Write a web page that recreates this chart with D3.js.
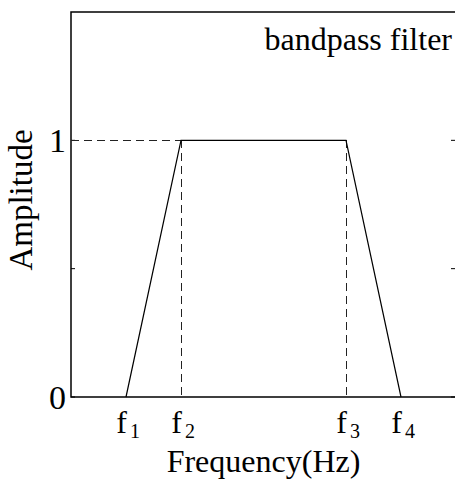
<!DOCTYPE html>
<html>
<head>
<meta charset="utf-8">
<script src="https://cdn.jsdelivr.net/npm/d3@7"></script>
<style>
  body { margin: 0; background: #fff; }
  text { font-family: "Liberation Serif", "Times New Roman", serif; fill: #000; }
</style>
</head>
<body>
<svg id="chart" width="455" height="479"></svg>
<script>
const svg = d3.select('#chart');

// filter corners (frequency index, amplitude)
const freqs = [1, 2, 5, 6];
const freqLabels = ['1', '2', '3', '4'];
const amps = [0, 1, 1, 0];
const yTickVals = [0, 0.5, 1];
const yTickLabels = ['0', '', '1'];

const x = d3.scaleLinear().domain([0, 7]).range([71, 456]);
const y = d3.scaleLinear().domain([0, 1.5]).range([397, 12]);

// frame: left, top, bottom (right side falls off the picture)
svg.append('path')
    .attr('d', d3.line()([[x(7), y(1.5)], [x(0), y(1.5)], [x(0), y(0)], [x(7), y(0)]]))
    .attr('fill', 'none')
    .attr('stroke', '#000')
    .attr('stroke-width', 1.5);

// inward ticks left and right
yTickVals.forEach(v => {
    svg.append('line')
        .attr('x1', x(0)).attr('x2', x(0) + 4)
        .attr('y1', y(v)).attr('y2', y(v))
        .attr('stroke', '#000').attr('stroke-width', 1);
    svg.append('line')
        .attr('x1', x(7) - 5).attr('x2', x(7))
        .attr('y1', y(v)).attr('y2', y(v))
        .attr('stroke', '#000').attr('stroke-width', 1);
});

svg.selectAll('.ylab')
    .data(yTickVals.filter((d, i) => yTickLabels[i] !== ''))
    .enter()
    .append('text')
    .attr('class', 'ylab')
    .attr('x', x(0) - 5)
    .attr('y', d => y(d))
    .attr('dy', '0.35em')
    .attr('text-anchor', 'end')
    .attr('font-size', 34)
    .text(d => yTickLabels[yTickVals.indexOf(d)]);

// dashed guides
const dash = svg.append('g')
    .attr('stroke', '#222')
    .attr('stroke-width', 1)
    .attr('stroke-dasharray', '8,5')
    .attr('shape-rendering', 'crispEdges')
    .attr('fill', 'none');

dash.append('path').attr('d', d3.line()([[x(0), y(1)], [x(freqs[1]), y(1)]]));
dash.append('path').attr('d', d3.line()([[x(freqs[1]), y(1)], [x(freqs[1]), y(0)]]));
dash.append('path').attr('d', d3.line()([[x(freqs[2]), y(1)], [x(freqs[2]), y(0)]]));

// the filter response
svg.append('path')
    .attr('d', d3.line().x((d, i) => x(freqs[i])).y(d => y(d))(amps))
    .attr('fill', 'none')
    .attr('stroke', '#000')
    .attr('stroke-width', 1.2);

// x labels f1..f4 : main letter and subscript as separate texts
svg.selectAll('.xlab')
    .data(freqs)
    .enter()
    .append('text')
    .attr('class', 'xlab')
    .attr('x', d => x(d) + 1)
    .attr('y', 433)
    .attr('text-anchor', 'end')
    .attr('font-size', 32)
    .text('f');

svg.selectAll('.xsub')
    .data(freqs)
    .enter()
    .append('text')
    .attr('class', 'xsub')
    .attr('x', d => x(d) + 4)
    .attr('y', 438)
    .attr('font-size', 20)
    .text((d, i) => freqLabels[i]);

svg.append('text')
    .attr('x', 452)
    .attr('y', 50)
    .attr('text-anchor', 'end')
    .attr('font-size', 32)
    .text('bandpass filter');

svg.append('text')
    .attr('x', (x(0) + x(7)) / 2)
    .attr('y', 472)
    .attr('text-anchor', 'middle')
    .attr('font-size', 32)
    .text('Frequency(Hz)');

svg.append('text')
    .attr('transform', 'translate(32,' + 200 + ') rotate(-90)')
    .attr('text-anchor', 'middle')
    .attr('font-size', 33)
    .text('Amplitude');
</script>
</body>
</html>
